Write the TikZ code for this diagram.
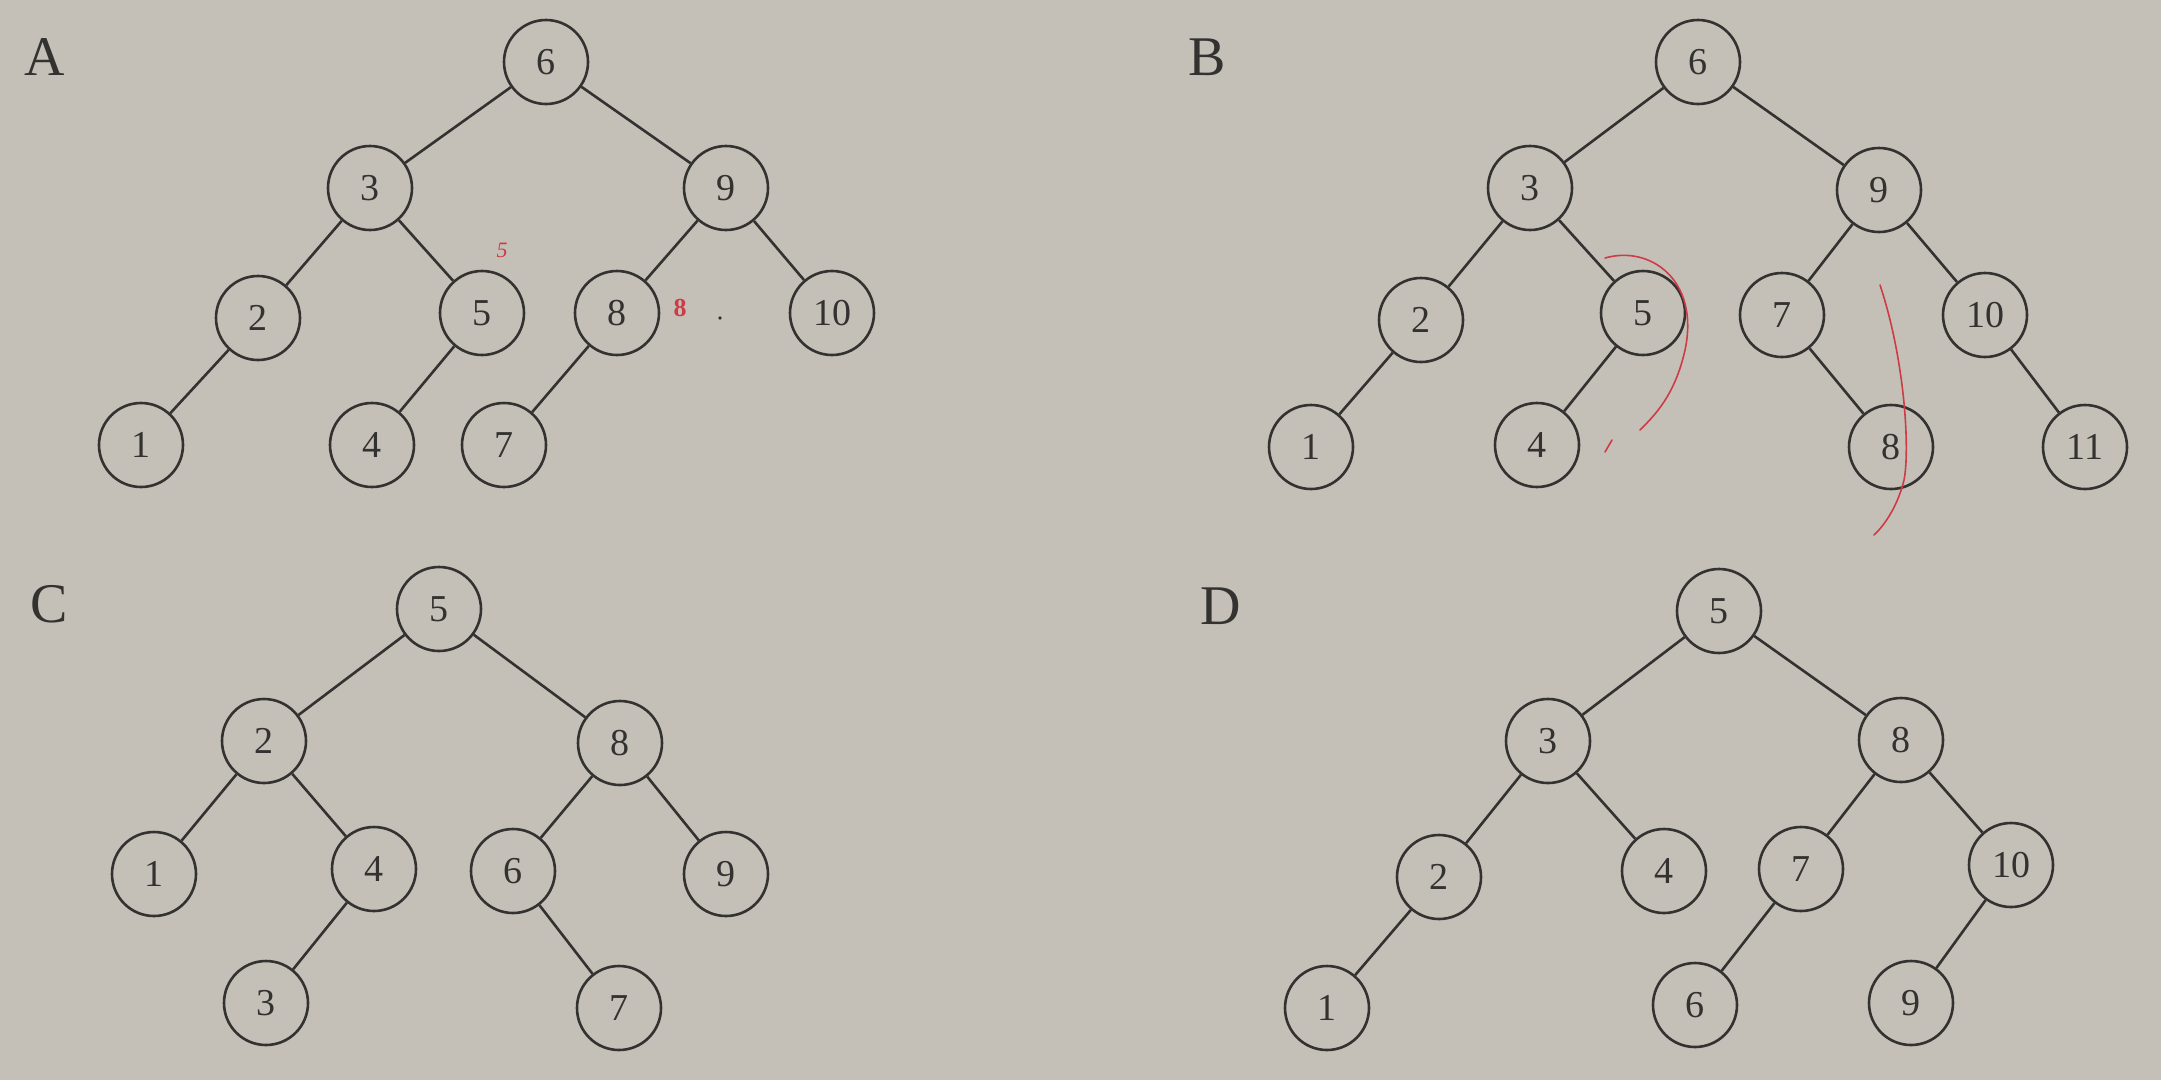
\documentclass[tikz,border=0pt]{standalone}
\usepackage{fontspec}
\setmainfont{Liberation Serif}
\definecolor{paper}{RGB}{196,192,184}
\definecolor{ink}{RGB}{52,50,48}
\definecolor{pen}{RGB}{205,60,70}
\begin{document}
\begin{tikzpicture}[x=1pt,y=-1pt,
  nd/.style={circle,draw=ink,line width=2.6pt,minimum size=84pt,inner sep=0pt,
    text=ink,font=\fontsize{38}{38}\selectfont},
  lbl/.style={text=ink,font=\fontsize{56}{56}\selectfont,inner sep=0pt},
  edge/.style={draw=ink,line width=2.6pt},
  penmark/.style={draw=pen,line width=1.6pt,line cap=round}]
\fill[paper] (0,0) rectangle (2161,1080);
\useasboundingbox (0,0) rectangle (2161,1080);
% ---------- A ----------
\node[lbl] (LA) at (45,57) {A};
\node[nd] (a6) at (546,62) {6};
\node[nd] (a3) at (370,188) {3};
\node[nd] (a9) at (726,188) {9};
\node[nd] (a2) at (258,318) {2};
\node[nd] (a5) at (482,313) {5};
\node[nd] (a8) at (617,313) {8};
\node[nd] (a10) at (832,313) {10};
\node[nd] (a1) at (141,445) {1};
\node[nd] (a4) at (372,445) {4};
\node[nd] (a7) at (504,445) {7};
\draw[edge] (a6)--(a3) (a6)--(a9) (a3)--(a2) (a3)--(a5) (a9)--(a8) (a9)--(a10)
  (a2)--(a1) (a5)--(a4) (a8)--(a7);
% ---------- B ----------
\node[lbl] (LB) at (1207,57) {B};
\node[nd] (b6) at (1698,62) {6};
\node[nd] (b3) at (1530,188) {3};
\node[nd] (b9) at (1879,190) {9};
\node[nd] (b2) at (1421,320) {2};
\node[nd] (b5) at (1643,313) {5};
\node[nd] (b7) at (1782,315) {7};
\node[nd] (b10) at (1985,315) {10};
\node[nd] (b1) at (1311,447) {1};
\node[nd] (b4) at (1537,445) {4};
\node[nd] (b8) at (1891,447) {8};
\node[nd] (b11) at (2085,447) {11};
\draw[edge] (b6)--(b3) (b6)--(b9) (b3)--(b2) (b3)--(b5) (b9)--(b7) (b9)--(b10)
  (b2)--(b1) (b5)--(b4) (b7)--(b8) (b10)--(b11);
% ---------- C ----------
\node[lbl] (LC) at (49,604) {C};
\node[nd] (c5) at (439,609) {5};
\node[nd] (c2) at (264,741) {2};
\node[nd] (c8) at (620,743) {8};
\node[nd] (c1) at (154,874) {1};
\node[nd] (c4) at (374,869) {4};
\node[nd] (c6) at (513,871) {6};
\node[nd] (c9) at (726,874) {9};
\node[nd] (c3) at (266,1003) {3};
\node[nd] (c7) at (619,1008) {7};
\draw[edge] (c5)--(c2) (c5)--(c8) (c2)--(c1) (c2)--(c4) (c8)--(c6) (c8)--(c9)
  (c4)--(c3) (c6)--(c7);
% ---------- D ----------
\node[lbl] (LD) at (1221,606) {D};
\node[nd] (d5) at (1719,611) {5};
\node[nd] (d3) at (1548,741) {3};
\node[nd] (d8) at (1901,740) {8};
\node[nd] (d2) at (1439,877) {2};
\node[nd] (d4) at (1664,871) {4};
\node[nd] (d7) at (1801,869) {7};
\node[nd] (d10) at (2011,865) {10};
\node[nd] (d1) at (1327,1008) {1};
\node[nd] (d6) at (1695,1005) {6};
\node[nd] (d9) at (1911,1003) {9};
\draw[edge] (d5)--(d3) (d5)--(d8) (d3)--(d2) (d3)--(d4) (d8)--(d7) (d8)--(d10)
  (d2)--(d1) (d7)--(d6) (d10)--(d9);
% ---------- red pen marks ----------
\node[text=pen,font=\fontsize{22}{22}\selectfont\itshape] (r5) at (502,250) {5};
\node[text=pen,font=\fontsize{26}{26}\selectfont\bfseries] (r8) at (680,308) {8};
\fill[ink] (720,318) circle (1.8pt);
\draw[penmark] (1605,258) .. controls (1650,245) and (1700,280) .. (1685,350)
  .. controls (1675,395) and (1655,415) .. (1640,430);
\draw[penmark] (1612,440) -- (1605,452);
\draw[penmark] (1880,285) .. controls (1905,360) and (1910,450) .. (1904,480)
  .. controls (1898,505) and (1885,525) .. (1874,535);
\end{tikzpicture}
\end{document}
